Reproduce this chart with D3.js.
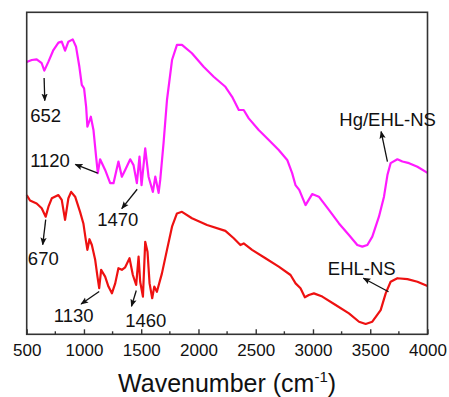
<!DOCTYPE html>
<html><head><meta charset="utf-8">
<script src="https://cdn.jsdelivr.net/npm/d3@7"></script>
<style>
html,body{margin:0;padding:0;background:#fff;}
text{font-family:"Liberation Sans",Arial,sans-serif;fill:#111;}
</style></head>
<body>
<svg id="chart" width="449" height="397"></svg>
<script>
// Wavenumbers (cm-1) and transmittance (arbitrary units)
const hgWave = [500,544,587,631,654,690,733,777,806,835,864,902,931,960,981,1001,1019,1030,1060,1083,1106,1121,1141,1185,1229,1258,1301,1331,1360,1404,1433,1462,1485,1503,1535,1564,1602,1623,1652,1666,1695,1725,1769,1812,1856,1943,2045,2133,2235,2294,2352,2395,2439,2526,2614,2701,2775,2818,2847,2880,2935,2993,3051,3139,3227,3314,3387,3431,3475,3518,3576,3620,3650,3678,3737,3781,3839,3912,4000];
const hgValue = [84.5,85.1,85.3,84.1,81.8,84.6,88.2,90.5,90.8,88.0,90.8,91.5,89.2,83.0,77.4,76.3,70.6,64.4,67.5,63.4,55.1,50.0,54.3,51.0,46.9,46.9,53.6,48.9,51.0,54.3,52.5,46.9,55.1,46.3,57.7,48.9,44.2,48.9,43.9,47.9,59.3,72.7,85.1,89.8,89.8,87.2,83.0,79.9,76.8,73.7,69.6,69.6,67.0,63.4,60.3,57.2,54.1,50.0,46.3,44.8,40.1,43.5,42.7,38.6,34.4,30.8,27.7,27.2,27.7,30.3,36.5,42.7,49.4,53.1,54.3,53.6,53.1,52.0,50.1];

const ehlWave = [500,529,587,631,666,690,719,777,806,835,864,888,923,966,995,1016,1030,1048,1069,1098,1118,1133,1150,1185,1214,1244,1273,1301,1331,1360,1398,1427,1456,1477,1491,1515,1535,1555,1573,1596,1614,1637,1681,1725,1769,1812,1856,1943,2075,2235,2308,2366,2395,2468,2585,2701,2804,2848,2891,2929,2964,3008,3081,3198,3314,3402,3460,3518,3591,3635,3678,3737,3825,3912,4000];
const ehlValue = [43.2,41.5,40.6,39.1,36.5,39.6,42.2,43.2,41.7,35.5,42.2,44.2,42.7,38.0,34.4,29.3,26.2,29.5,27.7,23.1,17.9,14.3,20.0,17.9,14.8,12.7,15.8,20.5,20.0,20.8,23.6,18.4,15.3,24.1,16.3,11.7,28.7,25.6,15.8,11.2,14.8,13.2,18.9,26.2,33.4,37.5,38.0,36.0,33.9,32.1,29.8,27.7,28.2,26.2,23.6,21.0,18.4,15.8,14.3,11.5,12.2,12.7,11.7,9.1,6.5,3.9,3.2,3.9,7.5,12.7,16.3,17.4,17.1,16.3,15.0];

const xTicks = [500,1000,1500,2000,2500,3000,3500,4000];
const xMinor = [750,1250,1750,2250,2750,3250,3750];

// Peak annotations: [label, arrow from (wave,value) to (wave,value), label position (wave,value)]
const annoLabels = ["652","1120","1470","670","1130","1460","Hg/EHL-NS","EHL-NS"];
const annoFrom   = [[652,79.5],[1120,50.0],[1465,45.0],[666,35.6],[1133,13.3],[1457,13.6],[3650,53.6],[3660,13.2]];
const annoTo     = [[658,72.5],[925,52.7],[1330,39.0],[640,27.8],[975,9.4],[1415,8.7],[3595,62.9],[3440,17.4]];
const annoPos    = [[530,66.0],[530,52.0],[1115,33.5],[510,21.5],[737,3.9],[1360,2.3],[3230,64.6],[3130,18.4]];

const svg = d3.select("#chart");
const L = 26.7, R = 427.5, T = 12.3, B = 334.3;
const x = d3.scaleLinear().domain([500,4000]).range([L,R]);
const y = d3.scaleLinear().domain([0,100]).range([B,B-322.3]);

svg.append("defs").append("marker")
  .attr("id","arr").attr("viewBox","0 0 10 10").attr("refX",9).attr("refY",5)
  .attr("markerWidth",6).attr("markerHeight",6).attr("orient","auto")
  .append("path").attr("d","M0,1 L10,5 L0,9 L2,5 Z").attr("fill","#111");

const line = d3.line().x(d=>x(d[0])).y(d=>y(d[1]));
svg.append("path").datum(hgWave.map((w,i)=>[w,hgValue[i]]))
  .attr("d",line).attr("fill","none").attr("stroke","#ff1aff").attr("stroke-width",2.2).attr("stroke-linejoin","round");
svg.append("path").datum(ehlWave.map((w,i)=>[w,ehlValue[i]]))
  .attr("d",line).attr("fill","none").attr("stroke","#ee1111").attr("stroke-width",2.2).attr("stroke-linejoin","round");

// frame
svg.append("rect").attr("x",L).attr("y",T).attr("width",R-L).attr("height",B-T)
  .attr("fill","none").attr("stroke","#333").attr("stroke-width",1.6);

// bottom axis, ticks inward
const ax = svg.append("g").attr("transform",`translate(0,${B})`)
  .call(d3.axisBottom(x).tickValues(xTicks).tickSizeInner(-5).tickSizeOuter(0).tickPadding(10).tickFormat(d3.format("d")));
ax.select(".domain").remove();
ax.selectAll(".tick line").attr("stroke","#333").attr("stroke-width",1.4);
ax.selectAll(".tick text").attr("font-size","17px").attr("fill","#111")
  .attr("font-family","'Liberation Sans',Arial,sans-serif").attr("dy","0.71em").attr("y",10);
svg.append("g").selectAll("line").data(xMinor).join("line")
  .attr("x1",d=>x(d)).attr("x2",d=>x(d)).attr("y1",B).attr("y2",B-3)
  .attr("stroke","#333").attr("stroke-width",1.4);

// axis title
const title = svg.append("text").attr("x",(L+R)/2).attr("y",391.5).attr("text-anchor","middle")
  .attr("font-size","25px");
title.append("tspan").text("Wavenumber (cm");
title.append("tspan").text("-1").attr("font-size","15px").attr("dy","-10");
title.append("tspan").text(")").attr("dy","10");

// annotations
const g = svg.append("g");
annoLabels.forEach((lab,i)=>{
  g.append("line").attr("x1",x(annoFrom[i][0])).attr("y1",y(annoFrom[i][1]))
    .attr("x2",x(annoTo[i][0])).attr("y2",y(annoTo[i][1]))
    .attr("stroke","#111").attr("stroke-width",1.3).attr("marker-end","url(#arr)");
  g.append("text").attr("x",x(annoPos[i][0])).attr("y",y(annoPos[i][1]))
    .attr("font-size","18.5px").text(lab);
});
</script>
</body></html>
